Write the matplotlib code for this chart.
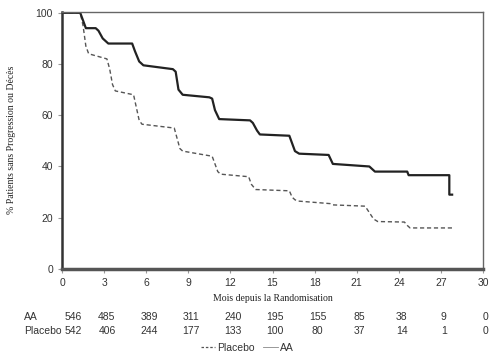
import matplotlib
matplotlib.use("Agg")
import matplotlib.pyplot as plt
from matplotlib.lines import Line2D
from matplotlib.transforms import blended_transform_factory

plt.rcParams["font.family"] = ["Liberation Sans", "DejaVu Sans"]

# Kaplan-Meier curves (months, % without progression or death)
aa_months = [0, 1.3, 1.5, 1.7, 2.4, 2.6, 2.9, 3.3, 3.5, 3.7, 5.0, 5.2, 5.5, 5.8, 7.9, 8.1, 8.3, 8.6,
             10.5, 10.7, 10.9, 11.2, 13.4, 13.6, 13.9, 14.1, 16.2, 16.4, 16.6, 16.9, 19.0, 19.3,
             21.9, 22.1, 22.3, 24.6, 24.7, 27.6, 27.6, 27.8]
aa_surv = [100, 100, 97, 94, 94, 93, 90, 88, 88, 88, 88, 85, 81, 79.5, 78, 77, 70, 68,
           67, 66.5, 62, 58.5, 58, 57, 54, 52.5, 52, 49, 46, 45, 44.5, 41,
           40, 39, 38, 38, 36.6, 36.6, 29, 29]
pl_months = [0, 1.3, 1.5, 1.7, 1.9, 3.2, 3.4, 3.6, 3.8, 5.1, 5.3, 5.5, 5.7, 8.0, 8.2, 8.4, 8.6,
             10.7, 10.9, 11.1, 11.3, 13.3, 13.5, 13.8, 16.2, 16.4, 16.6, 16.8, 19.1, 19.3,
             21.6, 21.9, 22.2, 22.5, 24.4, 24.6, 24.8, 27.8]
pl_surv = [100, 100, 95, 87, 84, 82, 78, 72, 69.5, 68, 63, 58, 56.5, 55, 51, 47, 46,
           44, 41, 38, 37, 36, 33, 31, 30.5, 28, 27, 26.5, 25.5, 25,
           24.5, 22, 19.5, 18.5, 18.3, 17, 16, 16]

ticks = [0, 3, 6, 9, 12, 15, 18, 21, 24, 27, 30]
aa_at_risk = [546, 485, 389, 311, 240, 195, 155, 85, 38, 9, 0]
pl_at_risk = [542, 406, 244, 177, 133, 100, 80, 37, 14, 1, 0]

fig = plt.figure(figsize=(5, 3.6), dpi=100)
ax = fig.add_axes([0.124, 0.253, 0.842, 0.715])

ax.plot(pl_months, pl_surv, color="#555555", lw=1.0, linestyle=(0, (3, 2)), label="Placebo")
ax.plot(aa_months, aa_surv, color="#222222", lw=1.6, label="AA")

ax.set_xlim(0, 30)
ax.set_ylim(0, 100.5)
ax.set_xticks(ticks)
ax.set_yticks([0, 20, 40, 60, 80, 100])
ax.tick_params(labelsize=7.5, colors="#999999", labelcolor="#333333", length=3, width=0.8)

ax.spines["left"].set_linewidth(1.8)
ax.spines["left"].set_color("#333333")
ax.spines["bottom"].set_linewidth(2.5)
ax.spines["bottom"].set_color("#555555")
for side in ["top", "right"]:
    ax.spines[side].set_color("#666666")
    ax.spines[side].set_linewidth(1.0)

ax.set_xlabel("Mois depuis la Randomisation", family="Liberation Serif", fontsize=7,
              color="#222222", labelpad=4)
ax.set_ylabel("% Patients sans Progression ou Décès", family="Liberation Serif", fontsize=7,
              color="#222222", labelpad=14)

# number at risk table
trans = blended_transform_factory(ax.transData, fig.transFigure)
for i, (t, a, p) in enumerate(zip(ticks, aa_at_risk, pl_at_risk)):
    xpos = t + (0.8 if i == 0 else 0.2)
    ax.text(xpos, 0.119, str(a), transform=trans, ha="center", va="center",
            fontsize=7.5, color="#333333", clip_on=False)
    ax.text(xpos, 0.081, str(p), transform=trans, ha="center", va="center",
            fontsize=7.5, color="#333333", clip_on=False)
fig.text(0.048, 0.119, "AA", ha="left", va="center", fontsize=7.5, color="#333333")
fig.text(0.048, 0.081, "Placebo", ha="left", va="center", fontsize=7.5, color="#333333")

handles = [Line2D([], [], color="#555555", lw=0.9, linestyle=(0, (2, 1.5))),
           Line2D([], [], color="#888888", lw=0.6)]
fig.legend(handles, ["Placebo", "AA"], loc="center", bbox_to_anchor=(0.494, 0.033), ncol=2,
           frameon=False, fontsize=7.5, handlelength=1.4, handletextpad=0.2,
           columnspacing=0.8, labelcolor="#333333")

fig.savefig("out.png", dpi=100)
